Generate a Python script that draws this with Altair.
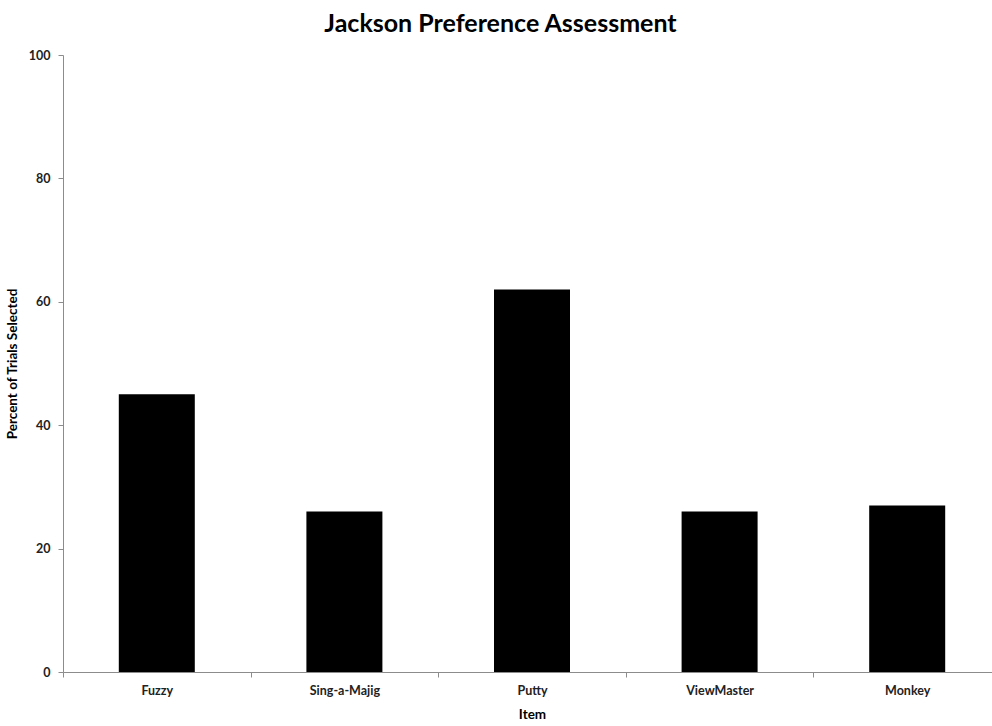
import altair as alt
import pandas as pd

items = ["Fuzzy", "Sing-a-Majig", "Putty", "ViewMaster", "Monkey"]
percent = [45, 26, 62, 26, 27]

df = pd.DataFrame({"Item": items, "Percent": percent})

FONT = "Lato"

bars = alt.Chart(df).mark_bar(color="black", size=76).encode(
    x=alt.X(
        "Item:N",
        sort=items,
        title="Item",
        scale=alt.Scale(paddingInner=0, paddingOuter=0, range=[0, 938]),
        axis=alt.Axis(
            labelAngle=0,
            tickBand="extent",
            tickSize=5,
            labelPadding=7,
            titlePadding=11,
        ),
    ),
    y=alt.Y(
        "Percent:Q",
        title="Percent of Trials Selected",
        scale=alt.Scale(domain=[0, 100], nice=False),
        axis=alt.Axis(
            values=[0, 20, 40, 60, 80, 100],
            grid=False,
            tickSize=5,
            labelPadding=8,
            titlePadding=9,
        ),
    ),
)

chart = bars.properties(
    width=929,
    height=617,
    title=alt.TitleParams(
        "Jackson Preference Assessment",
        font=FONT,
        fontSize=25,
        fontWeight="bold",
        color="black",
        anchor="middle",
        dx=-27,
        offset=12,
    ),
    autosize=alt.AutoSizeParams(type="none"),
    padding={"left": 63, "top": 55, "right": 0, "bottom": 54},
).configure_view(stroke=None).configure_axis(
    domainColor="#8c8c8c",
    tickColor="#8c8c8c",
    labelFont=FONT,
    labelFontSize=12.5,
    labelFontWeight="bold",
    labelColor="#222222",
    titleFont=FONT,
    titleFontSize=13.5,
    titleFontWeight="bold",
    titleColor="black",
)

chart.save("out.html", embed_options={"renderer": "svg", "actions": False})
